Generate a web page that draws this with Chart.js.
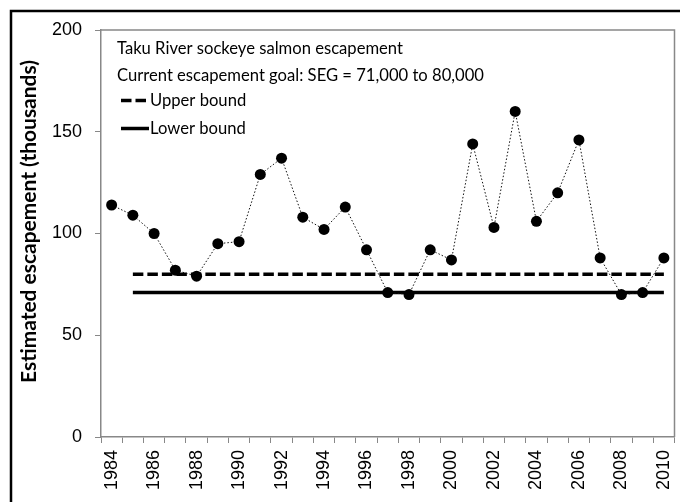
<!DOCTYPE html>
<html><head><meta charset="utf-8">
<script src="https://cdn.jsdelivr.net/npm/chart.js@4"></script>
<style>html,body{margin:0;padding:0;background:#fff}#wrap{width:680px;height:502px;position:relative}</style>
</head><body><div id="wrap"><canvas id="c" width="680" height="502"></canvas></div>
<script>
const years = ["1984","1985","1986","1987","1988","1989","1990","1991","1992","1993","1994","1995","1996","1997","1998","1999","2000","2001","2002","2003","2004","2005","2006","2007","2008","2009","2010"];
const escapement = [114,109,100,82,79,95,96,129,137,108,102,113,92,71,70,92,87,144,103,160,106,120,146,88,70,71,88];
const upperBound = [null,80,80,80,80,80,80,80,80,80,80,80,80,80,80,80,80,80,80,80,80,80,80,80,80,80,80];
const lowerBound = [null,71,71,71,71,71,71,71,71,71,71,71,71,71,71,71,71,71,71,71,71,71,71,71,71,71,71];
const yTickValues = [0,50,100,150,200];
const annotationLines = ["Taku River sockeye salmon escapement","Current escapement goal: SEG = 71,000 to 80,000"];
const legendLabels = ["Upper bound","Lower bound"];
const yTitle = "Estimated escapement (thousands)";

function fitSize(ctx, text, weight, family, target, base){
  ctx.font = weight + " " + base + "px " + family;
  const w = ctx.measureText(text).width;
  return base * target / w;
}

const decor = {
  id: 'decor',
  beforeDraw(chart){
    const ctx = chart.ctx; ctx.save(); ctx.fillStyle = '#fff'; ctx.fillRect(0,0,chart.width,chart.height); ctx.restore();
  },
  afterDraw(chart){
    const ctx = chart.ctx, a = chart.chartArea;
    ctx.save();
    ctx.strokeStyle = '#000'; ctx.lineWidth = 2.5;
    ctx.strokeRect(11, 11, 720, 620);
    ctx.strokeStyle = '#888'; ctx.lineWidth = 1.5;
    ctx.beginPath(); ctx.moveTo(a.left, a.top); ctx.lineTo(a.right, a.top); ctx.lineTo(a.right, a.bottom); ctx.stroke();
    const fam = "Lato, 'Open Sans', sans-serif";
    const s1 = fitSize(ctx, annotationLines[0], 'normal', fam, 286, 15);
    ctx.font = "normal " + s1 + "px " + fam;
    ctx.fillStyle = '#000'; ctx.textAlign = 'left'; ctx.textBaseline = 'middle';
    ctx.fillText(annotationLines[0], 117, 49);
    ctx.fillText(annotationLines[1], 117, 76);
    ctx.fillText(legendLabels[0], 150, 100.5);
    ctx.fillText(legendLabels[1], 150, 128.5);
    ctx.strokeStyle = '#000'; ctx.lineWidth = 3.5; ctx.lineCap = 'butt';
    ctx.setLineDash([10.5, 4]);
    ctx.beginPath(); ctx.moveTo(121, 100.5); ctx.lineTo(149, 100.5); ctx.stroke();
    ctx.setLineDash([]);
    ctx.beginPath(); ctx.moveTo(121, 128.5); ctx.lineTo(149, 128.5); ctx.stroke();
    const s2 = fitSize(ctx, yTitle, 'bold', fam, 323, 19);
    ctx.font = "bold " + s2 + "px " + fam;
    ctx.translate(29, 221.5); ctx.rotate(-Math.PI/2);
    ctx.textAlign = 'center'; ctx.textBaseline = 'middle';
    ctx.fillText(yTitle, 0, 0);
    ctx.restore();
  }
};

const tickFont = {family: "'Liberation Sans', Arial, sans-serif", size: 18};

new Chart(document.getElementById('c'), {
  type: 'line',
  data: {
    labels: years,
    datasets: [
      {label: 'Escapement', data: escapement, borderColor: '#111', borderWidth: 1, borderDash: [1.5, 2],
       pointRadius: 5.5, pointBackgroundColor: '#000', pointBorderWidth: 0, tension: 0, fill: false},
      {label: legendLabels[0], data: upperBound, borderColor: '#000', borderWidth: 3.5, borderDash: [10.5, 4],
       borderCapStyle: 'butt', pointRadius: 0, tension: 0, fill: false},
      {label: legendLabels[1], data: lowerBound, borderColor: '#000', borderWidth: 3.5,
       borderCapStyle: 'butt', pointRadius: 0, tension: 0, fill: false}
    ]
  },
  options: {
    responsive: false, animation: false, devicePixelRatio: 1,
    layout: {padding: {left: 0, right: 3, top: 30, bottom: 0}},
    plugins: {legend: {display: false}, tooltip: {enabled: false}},
    scales: {
      x: {
        type: 'category', offset: true,
        grid: {offset: true, drawOnChartArea: false, drawTicks: true, tickLength: 6, color: '#888', lineWidth: 1},
        border: {display: true, color: '#888', width: 1.5},
        ticks: {autoSkip: false, maxRotation: 90, minRotation: 90, padding: 7, color: '#000', font: tickFont,
          callback: (v, i) => (i % 2 === 0 ? years[i] : '')},
        afterFit: s => { s.height = 65; s.paddingLeft = 0; s.paddingRight = 0; }
      },
      y: {
        min: 0, max: 200,
        afterBuildTicks: s => { s.ticks = yTickValues.map(v => ({value: v})); },
        grid: {drawOnChartArea: false, drawTicks: true, tickLength: 6, color: '#888', lineWidth: 1},
        border: {display: true, color: '#888', width: 1.5},
        ticks: {padding: 13, color: '#000', font: tickFont},
        afterFit: s => { s.width = 101; s.paddingTop = 0; s.paddingBottom = 0; }
      }
    }
  },
  plugins: [decor]
});
</script></body></html>
